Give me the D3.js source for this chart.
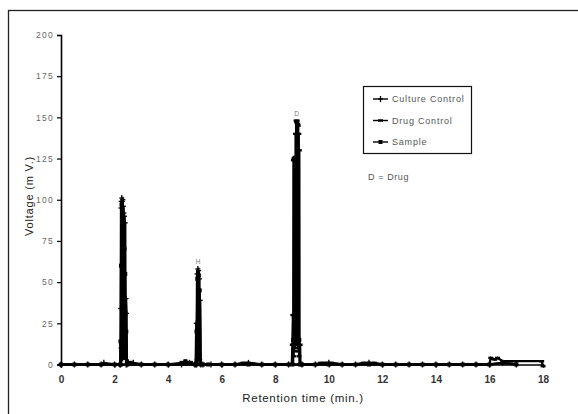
<!DOCTYPE html>
<html><head><meta charset="utf-8">
<script src="https://cdn.jsdelivr.net/npm/d3@7"></script>
<style>body{margin:0;background:#fff}svg{display:block}text{font-family:"Liberation Sans",Arial,sans-serif}</style>
</head><body><div id="chart"></div>
<script>
// ---- data ----
const seriesNames = ["Culture Control", "Drug Control", "Sample"];
const xTicks = [0, 2, 4, 6, 8, 10, 12, 14, 16, 18];
const yTicks = [0, 25, 50, 75, 100, 125, 150, 175, 200];
const yTickLabels = ["0", "25", "50", "75", "100", "125", "150", "175", "200"];

const cultureTime = [0, 0.5, 1, 1.5, 1.6, 2, 2.2, 2.22, 2.23, 2.24, 2.245, 2.25, 2.26, 2.27, 2.28, 2.29, 2.3, 2.31, 2.32, 2.33, 2.34, 2.35, 2.36, 2.37, 2.38, 2.4, 2.41, 2.43, 2.45, 2.46, 2.5, 2.7, 3, 3.5, 4, 4.5, 4.6, 4.8, 5.0, 5.03, 5.05, 5.06, 5.08, 5.09, 5.11, 5.12, 5.14, 5.15, 5.17, 5.18, 5.2, 5.22, 5.3, 5.6, 6, 6.5, 7, 7.5, 8, 8.5, 9, 9.5, 10, 10.5, 11, 11.5, 12, 12.5, 13, 13.5, 14, 14.5, 15, 15.5, 16, 16.5, 17];
const cultureVolt = [0, 0, 0, 0, 1, 0, 0, 0, 34, 95, 10, 99, 12, 101, 8, 99, 5, 100, 6, 96, 10, 92, 8, 90, 5, 86, 10, 40, 31, 0, 1, 1, 0, 0, 0, 0, 1, 1, 0, 0, 25, 0, 55, 3, 58, 4, 57, 5, 52, 3, 39, 0, 0, 0, 0, 0, 1, 0, 0, 0, 0, 0, 1, 0, 0, 1, 0, 0, 0, 0, 0, 0, 0, 0, 0, 1, 0];

const drugTime = [0, 0.5, 1, 1.5, 2, 2.5, 3, 3.5, 4, 4.5, 5, 5.5, 6, 6.5, 6.8, 7, 7.5, 8, 8.5, 8.62, 8.64, 8.66, 8.67, 8.68, 8.69, 8.7, 8.71, 8.72, 8.73, 8.74, 8.75, 8.76, 8.77, 8.78, 8.79, 8.8, 8.81, 8.82, 8.83, 8.84, 8.85, 8.86, 8.87, 8.88, 8.89, 8.9, 8.91, 8.93, 8.94, 9.0, 9.5, 9.7, 9.9, 10.1, 10.5, 11, 11.3, 11.5, 11.7, 12, 12.5, 13, 13.5, 14, 14.5, 15, 15.5, 16, 16.05, 16.2, 16.3, 16.5, 16.8, 17, 17.95, 18];
const drugVolt = [0, 0, 0, 0, 0, 0, 0, 0, 0, 0, 0, 0, 0, 0, 1, 1, 0, 0, 0, 0, 12, 30, 0, 124, 5, 125, 8, 125, 10, 126, 12, 140, 15, 148, 20, 147, 18, 148, 12, 146, 10, 145, 8, 140, 5, 130, 0, 12, 0, 0, 0, 1, 1, 1, 0, 0, 1, 1, 1, 0, 0, 0, 0, 0, 0, 0, 0, 0, 4, 3, 4, 2, 2, 2, 2, -1];

const sampleTime = [0, 0.5, 1, 1.5, 2, 2.21, 2.22, 2.23, 2.24, 2.25, 2.26, 2.27, 2.28, 2.29, 2.3, 2.31, 2.32, 2.33, 2.34, 2.35, 2.37, 2.38, 2.4, 2.42, 2.44, 2.46, 2.48, 2.6, 3, 3.5, 4, 4.5, 4.65, 4.85, 5, 5.04, 5.06, 5.07, 5.09, 5.1, 5.12, 5.13, 5.15, 5.16, 5.18, 5.21, 5.3, 5.5, 6, 6.5, 7, 7.5, 8, 8.5, 8.64, 8.67, 8.72, 8.78, 8.84, 8.9, 8.93, 9.0, 9.5, 10, 10.5, 11, 11.5, 12, 12.5, 13, 13.5, 14, 14.5, 15, 15.5, 16, 16.5, 17];
const sampleVolt = [0, 0, 0, 0, 0, 0, 14, 0, 60, 3, 97, 5, 96, 4, 94, 6, 90, 5, 88, 8, 70, 6, 55, 4, 20, 2, 0, 1, 0, 0, 0, 1, 2, 1, 0, 0, 20, 2, 52, 4, 56, 3, 54, 5, 45, 0, 0, 0, 0, 0, 0, 0, 0, 0, 0, 15, 21, 20, 21, 15, 0, 0, 0, 0, 0, 0, 0, 0, 0, 0, 0, 0, 0, 0, 0, 0, 1, 0];

const peakLabels = [{t: 5.12, v: 58, text: "H"}, {t: 8.8, v: 148, text: "D"}];

// ---- layout ----
const W = 578, H = 414;
const svg = d3.select("#chart").append("svg").attr("width", W).attr("height", H);
const x = d3.scaleLinear().domain([0, 18]).range([61, 543]);
const y = d3.scaleLinear().domain([0, 200]).range([364.5, 35]);

// outer frame (extends beyond the visible area on right and bottom)
svg.append("rect").attr("x", 8.5).attr("y", 10.5).attr("width", 580).attr("height", 420)
  .attr("fill", "none").attr("stroke", "#222").attr("stroke-width", 1.3);

// axes
const yAxis = svg.append("g").attr("transform", "translate(61,0)")
  .call(d3.axisLeft(y).tickValues(yTicks).tickSize(4).tickFormat((d, i) => yTickLabels[i]));
const xAxis = svg.append("g").attr("transform", "translate(0,364.5)")
  .call(d3.axisBottom(x).tickValues(xTicks).tickSize(3).tickFormat(d3.format("d")));
[yAxis, xAxis].forEach(g => {
  g.select(".domain").attr("stroke", "#000").attr("stroke-width", 1.6);
  g.selectAll(".tick line").attr("stroke", "#000").attr("stroke-width", 1.2);
});
yAxis.selectAll(".tick text").attr("font-size", 8.5).attr("fill", "#666").attr("x", -7).attr("letter-spacing", 1.3);
xAxis.selectAll(".tick text").attr("font-size", 10).attr("font-weight", "bold").attr("fill", "#333").attr("y", 11);

svg.append("text").attr("x", 303).attr("y", 402).attr("text-anchor", "middle")
  .attr("font-size", 11.5).attr("fill", "#222").attr("letter-spacing", 0.7).text("Retention time (min.)");
svg.append("text").attr("transform", "translate(33,196) rotate(-90)").attr("text-anchor", "middle")
  .attr("font-size", 11).attr("fill", "#222").attr("letter-spacing", 0.8).text("Voltage (m V.)");

// series
const series = [
  {name: seriesNames[0], t: cultureTime, v: cultureVolt, marker: "plus"},
  {name: seriesNames[1], t: drugTime, v: drugVolt, marker: "dash"},
  {name: seriesNames[2], t: sampleTime, v: sampleVolt, marker: "square"}
];
const line = d3.line().x(d => x(d[0])).y(d => y(d[1]));

function drawMarker(g, type, cx, cy) {
  if (type === "plus") {
    g.append("line").attr("x1", cx).attr("x2", cx).attr("y1", cy - 3).attr("y2", cy + 3).attr("stroke", "#000").attr("stroke-width", 1.3);
    g.append("line").attr("x1", cx - 2.5).attr("x2", cx + 2.5).attr("y1", cy).attr("y2", cy).attr("stroke", "#000").attr("stroke-width", 1.3);
  } else if (type === "dash") {
    g.append("rect").attr("x", cx - 2.5).attr("y", cy - 1.2).attr("width", 5).attr("height", 2.4).attr("fill", "#000");
  } else {
    g.append("rect").attr("x", cx - 2).attr("y", cy - 2).attr("width", 4).attr("height", 4).attr("fill", "#000");
  }
}

const plot = svg.append("g");
series.forEach(s => {
  const pts = s.t.map((t, i) => [t, s.v[i]]);
  plot.append("path").datum(pts).attr("d", line).attr("fill", "none")
    .attr("stroke", "#000").attr("stroke-width", 2.3);
  const mg = plot.append("g");
  pts.forEach(p => drawMarker(mg, s.marker, x(p[0]), y(p[1])));
});

// peak labels
peakLabels.forEach(p => {
  svg.append("text").attr("x", x(p.t)).attr("y", y(p.v) - 5).attr("text-anchor", "middle")
    .attr("font-size", 6.5).attr("fill", "#777").text(p.text);
});

// legend
const lg = svg.append("g");
lg.append("rect").attr("x", 363.5).attr("y", 86.5).attr("width", 108).attr("height", 67)
  .attr("fill", "#fff").attr("stroke", "#111").attr("stroke-width", 1.2);
series.forEach((s, i) => {
  const ly = 99 + i * 21.5;
  lg.append("line").attr("x1", 373).attr("x2", 388).attr("y1", ly).attr("y2", ly).attr("stroke", "#000").attr("stroke-width", 1.4);
  drawMarker(lg, s.marker, 380.5, ly);
  lg.append("text").attr("x", 392).attr("y", ly + 3).attr("font-size", 9).attr("fill", "#555").attr("letter-spacing", 0.8).text(s.name);
});
svg.append("text").attr("x", 368).attr("y", 180).attr("font-size", 9).attr("fill", "#555").attr("letter-spacing", 0.6).text("D = Drug");
</script></body></html>
